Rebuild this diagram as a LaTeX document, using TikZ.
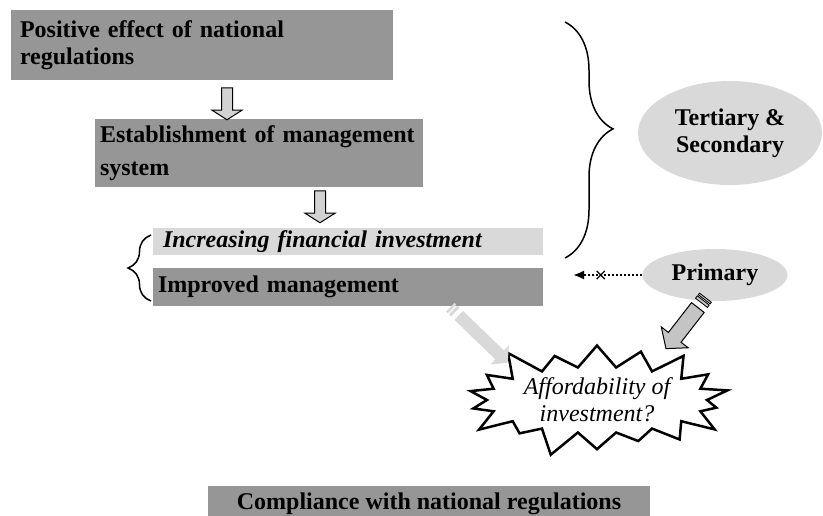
\documentclass[tikz,border=0pt]{standalone}
\usepackage{fontspec}
\setmainfont{Liberation Serif}
\usetikzlibrary{positioning, calc, arrows.meta, shapes.arrows, shapes.geometric, shapes.symbols, shapes.misc, decorations.pathreplacing}

\definecolor{boxgray}{HTML}{969696}
\definecolor{palegray}{HTML}{D9D9D9}
\definecolor{arrowgray}{HTML}{D2D2D2}
\definecolor{pencilgray}{HTML}{C4C4C4}

\newcommand{\bigfont}{\fontsize{24}{27}\selectfont}

\tikzset{
    darkbox/.style={fill=boxgray, inner xsep=9pt, inner ysep=0pt, align=left, font=\bfseries\bigfont},
    lightbox/.style={fill=palegray, inner xsep=9pt, inner ysep=0pt, align=left, font=\bfseries\itshape\bigfont},
    downarrow/.style={single arrow, draw, fill=arrowgray, line width=1pt, rotate=-90,
        minimum height=32pt, inner xsep=0pt, inner ysep=5pt,
        single arrow head extend=9.5pt, single arrow tip angle=115},
    cloud/.style={ellipse, fill=palegray, align=center, font=\bfseries\bigfont},
    curly/.style={decorate, line width=1.5pt},
}

\begin{document}
\begin{tikzpicture}[x=1pt, y=-1pt]
    \useasboundingbox (0,0) rectangle (823,515);

    % the chain of boxes
    \node[darkbox, text width=364pt, minimum height=70pt] (effect) at (202,45) {Positive effect of national\\regulations};
    \node[darkbox, inner xsep=5pt, text width=318pt, minimum height=68pt] (system) at (259,153) {Establishment of management\\[6pt]system};
    \node[lightbox, inner xsep=10pt, text width=370pt, minimum height=27pt] (invest) at (348,241.5) {Increasing financial investment};
    \node[darkbox, inner xsep=5pt, text width=380pt, minimum height=38pt] (improved) at (348,287) {Improved management};
    \node[darkbox, align=center, inner xsep=0pt, inner ysep=6pt, minimum width=442pt, text height=17pt, text depth=6pt,
        anchor=base] (comply) at (429,509) {Compliance with national regulations};

    \node[downarrow] (arrA) at (227,102) {};
    \node[downarrow] (arrB) at (320,205) {};

    % braces
    \draw[curly, decoration={brace, amplitude=23pt, aspect=0.5}] (151,301) -- (151,235);
    \draw[curly, decoration={brace, amplitude=48pt, aspect=0.453}] (565,22) -- (565,258);

    % levels
    \node[cloud, minimum width=184pt, minimum height=104pt] (tert) at (730,133) {Tertiary \&\\Secondary};
    \node[cloud, minimum width=145pt, minimum height=52pt] (prim) at (715,275) {Primary};

    \coordinate (dotend) at (573,275);
    \draw[dotted, line width=2pt, -{Latex[length=11pt, width=9pt]}] (prim.west) -- node[pos=0.6, solid, cross out, draw, line width=1.2pt, minimum size=7pt, inner sep=0pt] (xmark) {} (dotend);

    % the question
    \node[starburst, draw, line width=2.5pt, fill=white, minimum width=280pt, minimum height=126pt,
        starburst point height=30pt, starburst points=18, inner sep=0pt, align=center,
        font=\itshape\bigfont] (afford) at (597,400) {Affordability of\\investment?};

    % light striped arrow
    \coordinate (ltail) at (450,307);
    \coordinate (ltip) at (506,361);
    \node[rectangle, fill=palegray, rotate=-44, minimum width=2.5pt, minimum height=12pt, inner sep=0pt] (lsA) at ($(ltail)!0.02!(ltip)$) {};
    \node[rectangle, fill=palegray, rotate=-44, minimum width=3pt, minimum height=12pt, inner sep=0pt] (lsB) at ($(ltail)!0.075!(ltip)$) {};
    \node[single arrow, fill=palegray, rotate=-44, minimum height=68pt, inner xsep=0pt, inner ysep=6pt,
        single arrow head extend=7pt, single arrow tip angle=100] (larrow) at ($(ltail)!0.56!(ltip)$) {};

    % pencil arrow
    \coordinate (ptail) at (706,297);
    \coordinate (ptip) at (668,346);
    \node[rectangle, draw, fill=pencilgray, line width=0.8pt, rotate=232.2, minimum width=2pt, minimum height=15pt, inner sep=0pt] (psA) at ($(ptail)!0.03!(ptip)$) {};
    \node[rectangle, draw, fill=pencilgray, line width=0.8pt, rotate=232.2, minimum width=3pt, minimum height=15pt, inner sep=0pt] (psB) at ($(ptail)!0.095!(ptip)$) {};
    \node[single arrow, draw, fill=pencilgray, line width=1pt, rotate=232.2, minimum height=52pt, inner xsep=0pt, inner ysep=7.5pt,
        single arrow head extend=9pt, single arrow tip angle=100] (parrow) at ($(ptail)!0.58!(ptip)$) {};
\end{tikzpicture}
\end{document}
